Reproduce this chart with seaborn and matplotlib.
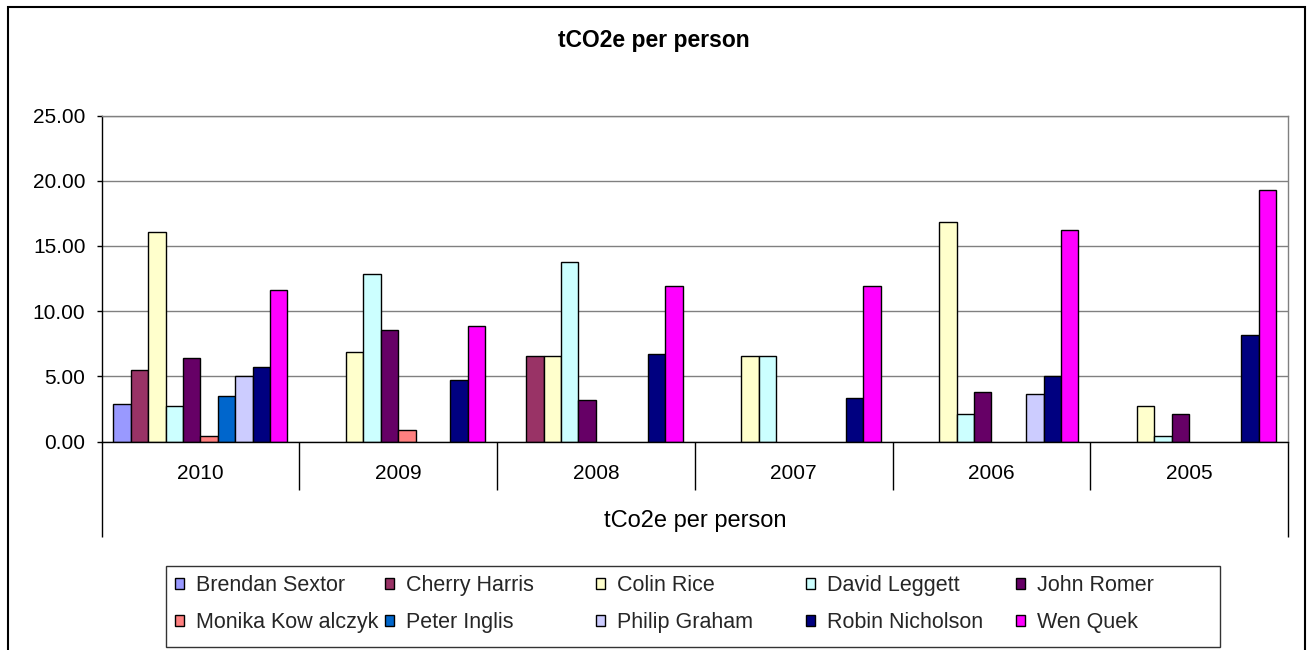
import numpy as np
import pandas as pd
import matplotlib
matplotlib.use("Agg")
import matplotlib.pyplot as plt
import matplotlib.transforms as mtransforms
from matplotlib.patches import Patch, Rectangle
import seaborn as sns

# ---- data -------------------------------------------------------------
years = ["2010", "2009", "2008", "2007", "2006", "2005"]
people = ["Brendan Sextor", "Cherry Harris", "Colin Rice", "David Leggett",
          "John Romer", "Monika Kow alczyk", "Peter Inglis", "Philip Graham",
          "Robin Nicholson", "Wen Quek"]
nan = np.nan
brendan_sextor = [2.88, nan, nan, nan, nan, nan]
cherry_harris = [5.49, nan, 6.58, nan, nan, nan]
colin_rice = [16.07, 6.89, 6.58, 6.58, 16.83, 2.75]
david_leggett = [2.75, 12.88, 13.77, 6.58, 2.12, 0.46]
john_romer = [6.43, 8.57, 3.19, nan, 3.80, 2.14]
monika_kowalczyk = [0.44, 0.90, nan, nan, nan, nan]
peter_inglis = [3.52, nan, nan, nan, nan, nan]
philip_graham = [5.05, nan, nan, nan, 3.67, nan]
robin_nicholson = [5.69, 4.74, 6.73, 3.37, 5.05, 8.14]
wen_quek = [11.63, 8.88, 11.94, 11.94, 16.22, 19.31]

series = [brendan_sextor, cherry_harris, colin_rice, david_leggett, john_romer,
          monika_kowalczyk, peter_inglis, philip_graham, robin_nicholson, wen_quek]
colors = ["#9999FF", "#993366", "#FFFFCC", "#CCFFFF", "#660066",
          "#FF8080", "#0066CC", "#CCCCFF", "#000080", "#FF00FF"]
yticks = [0, 5, 10, 15, 20, 25]

rows = []
for name, vals in zip(people, series):
    for yr, v in zip(years, vals):
        rows.append({"year": yr, "person": name, "value": v})
df = pd.DataFrame(rows).dropna()

# ---- figure -----------------------------------------------------------
sns.set_style("white")
plt.rcParams["font.family"] = ["Liberation Sans", "DejaVu Sans"]

W, H = 1308, 650
fig = plt.figure(figsize=(W / 100, H / 100), dpi=100)
fig.patch.set_facecolor("white")

left, right, top, bottom = 101.5, 1288, 115.5, 441.7
ax = fig.add_axes([left / W, 1 - bottom / H, (right - left) / W, (bottom - top) / H])

sns.barplot(data=df, x="year", y="value", hue="person", order=years,
            hue_order=people, palette=dict(zip(people, colors)),
            width=0.88, saturation=1, edgecolor="black", linewidth=1,
            errorbar=None, legend=False, ax=ax)

ax.set_xlim(-0.5, len(years) - 0.5)
ax.set_ylim(0, 25)
ax.set_yticks(yticks)
ax.set_yticklabels([f"{t:.2f}" for t in yticks])
ax.yaxis.grid(True, color="#808080", linewidth=1)
ax.xaxis.grid(False)
ax.set_axisbelow(True)
ax.set_ylabel("")

for s in ("top", "right"):
    ax.spines[s].set_color("#808080")
    ax.spines[s].set_linewidth(1)
for s in ("left", "bottom"):
    ax.spines[s].set_color("black")
    ax.spines[s].set_linewidth(1)

ax.tick_params(axis="y", direction="out", length=3.6, width=1, color="black",
               pad=8, labelsize=15, labelcolor="black", left=True)
ax.tick_params(axis="x", length=0, pad=16, labelsize=15, labelcolor="black")

ax.set_xlabel("tCo2e per person", fontsize=17, color="black")
ax_h = bottom - top
ax.xaxis.set_label_coords(0.5, -(510 - bottom) / ax_h)

# category separators below the axis
trans = mtransforms.blended_transform_factory(ax.transData, ax.transAxes)
short_y = -(490 - bottom) / ax_h
long_y = -(537 - bottom) / ax_h
bounds = np.arange(-0.5, len(years), 1.0)
for i, b in enumerate(bounds):
    end = long_y if i in (0, len(bounds) - 1) else short_y
    ax.plot([b, b], [0, end], transform=trans, color="black", lw=1,
            clip_on=False, solid_capstyle="butt")

# title
fig.text(0.5, 1 - 40 / H, "tCO2e per person", ha="center", va="center",
         fontsize=16.5, fontweight="bold", color="black")

# legend: five evenly spaced columns of two entries inside one frame
handles = [Patch(facecolor=c, edgecolor="black", linewidth=1) for c in colors]
lx0, lx1, ly0, ly1 = 166, 1220, 566, 647
col_x0, col_step = 175, 210.3
ncols = 5
for c in range(ncols):
    idx = [c, c + ncols]
    leg = fig.legend([handles[i] for i in idx], [people[i] for i in idx],
                     loc="upper left",
                     bbox_to_anchor=((col_x0 + c * col_step) / W, 1 - 575 / H),
                     frameon=False, fontsize=15.5, borderpad=0, borderaxespad=0,
                     handlelength=0.42, handleheight=0.42, handletextpad=0.56,
                     labelspacing=0.75)
fig.patches.append(Rectangle((lx0 / W, 1 - ly1 / H), (lx1 - lx0) / W, (ly1 - ly0) / H,
                             transform=fig.transFigure, fill=False,
                             edgecolor="#333333", linewidth=1))

# outer chart border
fig.patches.append(Rectangle((8 / W, -0.05), (1305 - 8) / W, 1.05 - 7 / H,
                             transform=fig.transFigure, fill=False,
                             edgecolor="black", linewidth=1.5))

fig.savefig("out.png", dpi=100)
